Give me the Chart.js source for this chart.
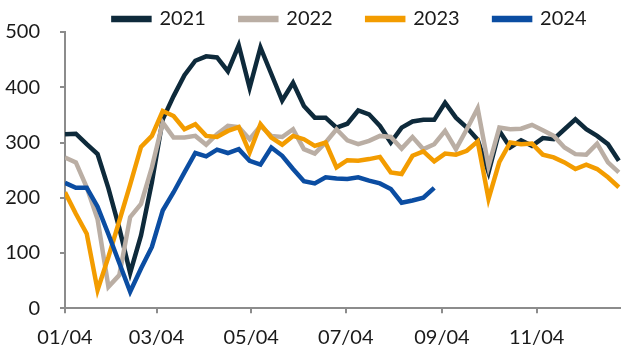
<!DOCTYPE html>
<html>
<head>
    <meta charset="utf-8">
    <title>Serie semanal 2021-2024</title>
    <script src="https://cdn.jsdelivr.net/npm/chart.js"></script>
    <style>
        body { margin: 0; background: #fff; }
        #wrap { width: 621px; height: 354px; }
    </style>
</head>
<body>
    <div id="wrap"><canvas id="grafico"></canvas></div>

    <script>
        // Semanas desde el 04/01
        const weeks = [0, 1, 2, 3, 4, 5, 6, 7, 8, 9, 10, 11, 12, 13, 14, 15, 16, 17, 18, 19,
            20, 21, 22, 23, 24, 25, 26, 27, 28, 29, 30, 31, 32, 33, 34, 35, 36, 37, 38, 39,
            40, 41, 42, 43, 44, 45, 46, 47, 48, 49, 50, 51];
        const tickLabels = ['01/04', '03/04', '05/04', '07/04', '09/04', '11/04'];
        const years = ['2021', '2022', '2023', '2024'];

        const s2021 = [315, 316, 297, 279, 217, 145, 64, 132, 228, 342, 384, 422, 448, 456, 454, 429, 476, 399, 472, 424,
            376, 408, 366, 345, 345, 327, 334, 358, 351, 330, 300, 327, 338, 341, 341, 372, 345, 327, 305, 246,
            321, 291, 304, 294, 308, 306, 324, 342, 324, 312, 297, 267];
        const s2022 = [273, 264, 219, 161, 39, 60, 165, 189, 255, 336, 309, 309, 312, 296, 315, 330, 328, 306, 330, 312,
            310, 324, 288, 280, 300, 324, 304, 297, 303, 312, 310, 289, 310, 288, 297, 321, 288, 324, 362, 257,
            327, 324, 325, 332, 322, 312, 291, 279, 278, 298, 264, 246];
        const s2023 = [210, 171, 135, 33, 93, 158, 224, 292, 312, 357, 348, 324, 333, 312, 310, 321, 328, 282, 333, 309,
            296, 312, 306, 294, 300, 255, 268, 267, 270, 274, 246, 243, 276, 284, 266, 280, 278, 285, 302, 198,
            265, 300, 297, 298, 278, 273, 264, 252, 260, 252, 237, 219];
        const s2024 = [227, 218, 218, 184, 134, 82, 30, 72, 111, 177, 210, 246, 281, 275, 287, 281, 288, 267, 260, 291,
            276, 252, 230, 226, 237, 235, 234, 237, 231, 226, 216, 191, 195, 200, 218];

        const series = [s2021, s2022, s2023, s2024];
        const colores = ['#0e2a3b', '#baaea4', '#f39c00', '#0b4da2'];

        // Posición de una etiqueta mm/dd en semanas desde el 4 de enero
        function semanaDe(label) {
            const [m, d] = label.split('/').map(Number);
            return (Date.UTC(2021, m - 1, d) - Date.UTC(2021, 0, 4)) / (7 * 86400000);
        }

        const fuente = { family: 'Lato', size: 20 };
        const gris = '#8c8c8c';

        new Chart(document.getElementById('grafico'), {
            type: 'line',
            data: {
                labels: weeks,
                datasets: years.map((y, i) => ({
                    label: y,
                    data: series[i],
                    borderColor: colores[i],
                    backgroundColor: colores[i],
                    borderWidth: 4.5,
                    pointRadius: 0,
                    tension: 0,
                    order: years.length - i
                }))
            },
            options: {
                animation: false,
                responsive: true,
                maintainAspectRatio: false,
                // la leyenda sube por encima del borde para que quede pegada arriba
                layout: { padding: { top: -38.5, left: -14.8, right: 0, bottom: -7.3 } },
                plugins: {
                    legend: {
                        align: 'end',
                        maxHeight: 57.5,
                        labels: {
                            boxWidth: 36,
                            boxHeight: 2,
                            padding: 34.5,
                            color: '#1a1a1a',
                            font: fuente,
                            sort: (a, b) => a.datasetIndex - b.datasetIndex
                        }
                    },
                    tooltip: { enabled: false }
                },
                scales: {
                    x: {
                        type: 'linear',
                        min: 0,
                        max: 51.2,
                        afterBuildTicks: axis => {
                            axis.ticks = tickLabels.map(l => ({ value: semanaDe(l) }));
                        },
                        ticks: {
                            callback: (v, i) => tickLabels[i],
                            autoSkip: false,
                            maxRotation: 0,
                            padding: 12,
                            color: '#1a1a1a',
                            font: fuente
                        },
                        grid: { drawOnChartArea: false, tickLength: 5, color: gris, lineWidth: 2 },
                        border: { color: gris, width: 2 }
                    },
                    y: {
                        min: 0,
                        max: 500,
                        ticks: { stepSize: 100, padding: 20, color: '#1a1a1a', font: fuente },
                        grid: { drawOnChartArea: false, tickLength: 5, color: gris, lineWidth: 2 },
                        border: { color: gris, width: 2 }
                    }
                }
            }
        });
    </script>
</body>
</html>
